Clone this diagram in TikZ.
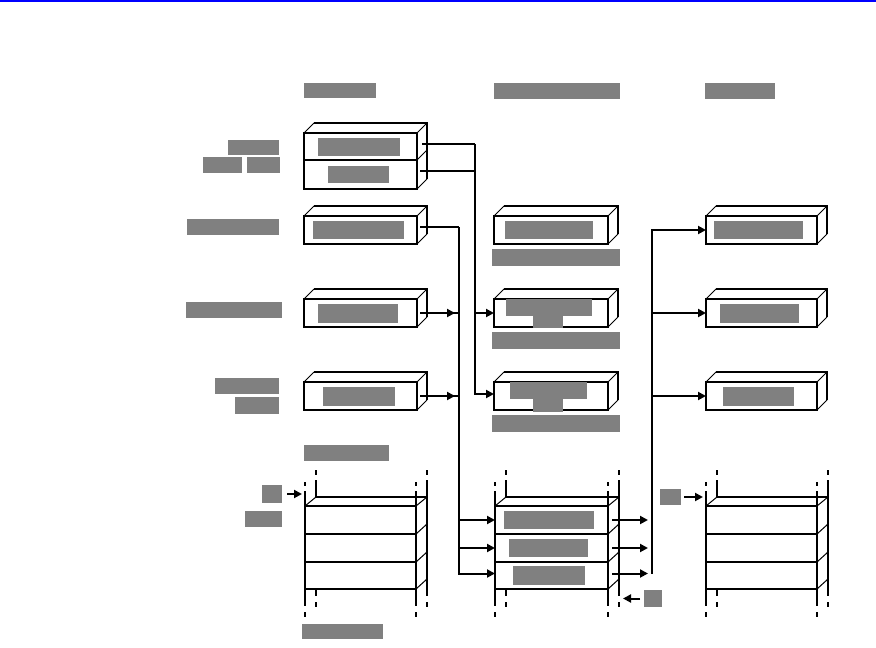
\documentclass[tikz,border=0pt]{standalone}
\usetikzlibrary{arrows.meta,calc}
\tikzset{
  front/.style={draw, line width=2pt, inner sep=0pt, outer sep=0pt, fill=white},
  edge/.style={line width=2pt},
  diag/.style={line width=1pt},
  conn/.style={line width=2pt},
  arr/.style={line width=2pt, -{Triangle[length=8pt,width=8pt]}},
  txt/.style={inner sep=0pt, outer sep=0pt, fill=black!50},
}
\newcommand\txtpatch[5]{%
  \pgfmathsetmacro\pw{#4-#2}\pgfmathsetmacro\ph{#5-#3}%
  \node[txt, anchor=north west, minimum width=\pw pt, minimum height=\ph pt] (#1) at (#2,#3) {};}
\newcommand\boxthree[5]{%
  \node[front, anchor=north west, minimum width=#4pt, minimum height=#5pt] (#1) at (#2,#3) {};
  \draw[edge] ([shift={(10,-10)}]#1.north west) -- ([shift={(10,-10)}]#1.north east) -- ([shift={(10,-10)}]#1.south east);
  \draw[diag] (#1.north west) -- ++(10,-10) (#1.north east) -- ++(10,-10) (#1.south east) -- ++(10,-10);}
\newcommand\stackbox[3]{%
  \pgfmathsetmacro\xa{#2+#3}\pgfmathsetmacro\xb{#2+11}\pgfmathsetmacro\xc{#2+#3+11}%
  \node[front, anchor=north west, minimum width=#3pt, minimum height=28pt] (#1a) at (#2,506) {};
  \node[front, anchor=north west, minimum width=#3pt, minimum height=28pt] (#1b) at (#2,534) {};
  \node[front, anchor=north west, minimum width=#3pt, minimum height=27pt] (#1c) at (#2,562) {};
  \draw[edge] (#2,491) -- (#2,606) (\xa,491) -- (\xa,606);
  \draw[edge] (\xb,480) -- (\xb,497) -- (\xc,497) (\xc,480) -- (\xc,596) (\xb,590) -- (\xb,596);
  \draw[edge] (\xb,470) -- (\xb,475) (\xc,470) -- (\xc,475) (\xb,602) -- (\xb,607) (\xc,602) -- (\xc,607)
              (#2,482) -- (#2,486) (\xa,482) -- (\xa,486) (#2,612) -- (#2,617) (\xa,612) -- (\xa,617);
  \draw[diag] (#2,506) -- (\xb,497) (\xa,506) -- (\xc,497) (\xa,534) -- ++(11,-10) (\xa,562) -- ++(11,-10) (\xa,589) -- ++(11,-10);}
\begin{document}
\begin{tikzpicture}[x=1pt,y=-1pt]
\useasboundingbox (0,0) rectangle (876,648);
\fill[white] (0,0) rectangle (876,648);
\fill[blue] (0,0) rectangle (876,2);

% headers
\txtpatch{h1}{304}{83}{376}{98}
\txtpatch{h2}{494}{83}{620}{99}
\txtpatch{h3}{705}{83}{775}{99}

% left column boxes
\boxthree{L1}{304}{133}{113}{56}
\draw[edge] (304,160) -- (417,160);
\draw[diag] (417,160) -- ++(10,-10);
\boxthree{L2}{304}{216}{113}{28}
\boxthree{L3}{304}{299}{113}{28}
\boxthree{L4}{304}{382}{113}{28}

% middle column boxes
\boxthree{M2}{494}{216}{114}{28}
\boxthree{M3}{494}{299}{114}{28}
\boxthree{M4}{494}{382}{114}{28}

% right column boxes
\boxthree{R2}{706}{216}{111}{28}
\boxthree{R3}{706}{299}{111}{28}
\boxthree{R4}{706}{382}{111}{28}

% stacks
\stackbox{LS}{305}{111}
\stackbox{MS}{495}{113}
\stackbox{RS}{706}{111}

% text patches
\txtpatch{t1a}{318}{138}{400}{156}
\txtpatch{t1b}{328}{166}{389}{183}
\txtpatch{l1a}{228}{140}{279}{155}
\txtpatch{l1b}{203}{157}{242}{173}
\txtpatch{l1c}{247}{157}{280}{173}
\txtpatch{t2}{313}{221}{404}{239}
\txtpatch{l2}{187}{219}{279}{235}
\txtpatch{t3}{318}{304}{398}{323}
\txtpatch{l3}{186}{302}{282}{318}
\txtpatch{t4}{323}{387}{395}{406}
\txtpatch{l4a}{215}{378}{279}{394}
\txtpatch{l4b}{235}{397}{279}{414}
\txtpatch{m2}{505}{221}{593}{239}
\txtpatch{m2u}{492}{249}{620}{266}
\txtpatch{m3a}{506}{299}{592}{316}
\txtpatch{m3b}{533}{315}{563}{328}
\txtpatch{m3u}{492}{332}{620}{349}
\txtpatch{m4a}{510}{382}{587}{399}
\txtpatch{m4b}{533}{398}{563}{412}
\txtpatch{m4u}{492}{415}{620}{432}
\txtpatch{r2}{714}{221}{803}{239}
\txtpatch{r3}{720}{304}{799}{323}
\txtpatch{r4}{723}{387}{794}{406}
\txtpatch{sh}{304}{445}{389}{461}
\txtpatch{sb}{302}{624}{383}{639}
\txtpatch{ms1}{504}{511}{594}{529}
\txtpatch{ms2}{509}{539}{588}{557}
\txtpatch{ms3}{513}{566}{585}{585}
\txtpatch{la}{262}{485}{282}{503}
\txtpatch{lb}{245}{511}{282}{527}
\txtpatch{ra}{660}{489}{681}{505}
\txtpatch{mb}{644}{590}{662}{607}

% bus A (x=475) from L1
\coordinate (busA1) at (475,144);
\coordinate (busA2) at (475,171);
\draw[conn] ([shift={(5,11)}]L1.north east) -- (busA1);
\draw[conn] ([shift={(3,38)}]L1.north east) -- (busA2);
\draw[arr] (busA1) |- ([shift={(0,-2)}]M4.west);
\draw[arr] (busA1 |- M3.west) -- (M3.west);

% bus B (x=459) from L2, L3, L4
\coordinate (busB) at (459,227);
\draw[conn] ([shift={(3,-3)}]L2.east) -- (busB);
\draw[arr] (busB) |- ([shift={(0,-2)}]MSc.west);
\draw[arr] (busB |- MSa.west) -- (MSa.west);
\draw[arr] (busB |- MSb.west) -- (MSb.west);
\coordinate (b3) at (busB |- L3.east);
\coordinate (b4) at (busB |- L4.east);
\draw[conn] ([xshift=3pt]L3.east) -- (b3);
\draw[arr] ([xshift=3pt]L3.east) -- ([xshift=-4pt]b3);
\draw[conn] ([xshift=3pt]L4.east) -- (b4);
\draw[arr] ([xshift=3pt]L4.east) -- ([xshift=-4pt]b4);

% bus C (x=652) to right boxes
\coordinate (busCx) at (652,0);
\coordinate (busC) at ([shift={(0,-2)}]busCx |- MSc.east);
\draw[arr] (busC) |- (R2.west);
\draw[arr] (busCx |- R3.west) -- (R3.west);
\draw[arr] (busCx |- R4.west) -- (R4.west);
\coordinate (c1) at (busCx |- MSa.east);
\coordinate (c2) at (busCx |- MSb.east);
\coordinate (c3) at (busC);
\draw[arr] ([xshift=4pt]MSa.east) -- ([xshift=-4pt]c1);
\draw[arr] ([xshift=4pt]MSb.east) -- ([xshift=-4pt]c2);
\draw[arr] ([xshift=4pt]MSc.east |- c3) -- ([xshift=-4pt]c3);

% small pointer arrows
\draw[arr, shorten >=3pt] ([xshift=5pt]la.east) -- (la.east -| LSa.west);
\draw[arr, shorten >=3pt] ([xshift=3pt]ra.east) -- (ra.east -| RSa.west);
\draw[arr, shorten >=15pt] ([xshift=-4pt]mb.west) -- (mb.west -| MSc.east);
\end{tikzpicture}
\end{document}
